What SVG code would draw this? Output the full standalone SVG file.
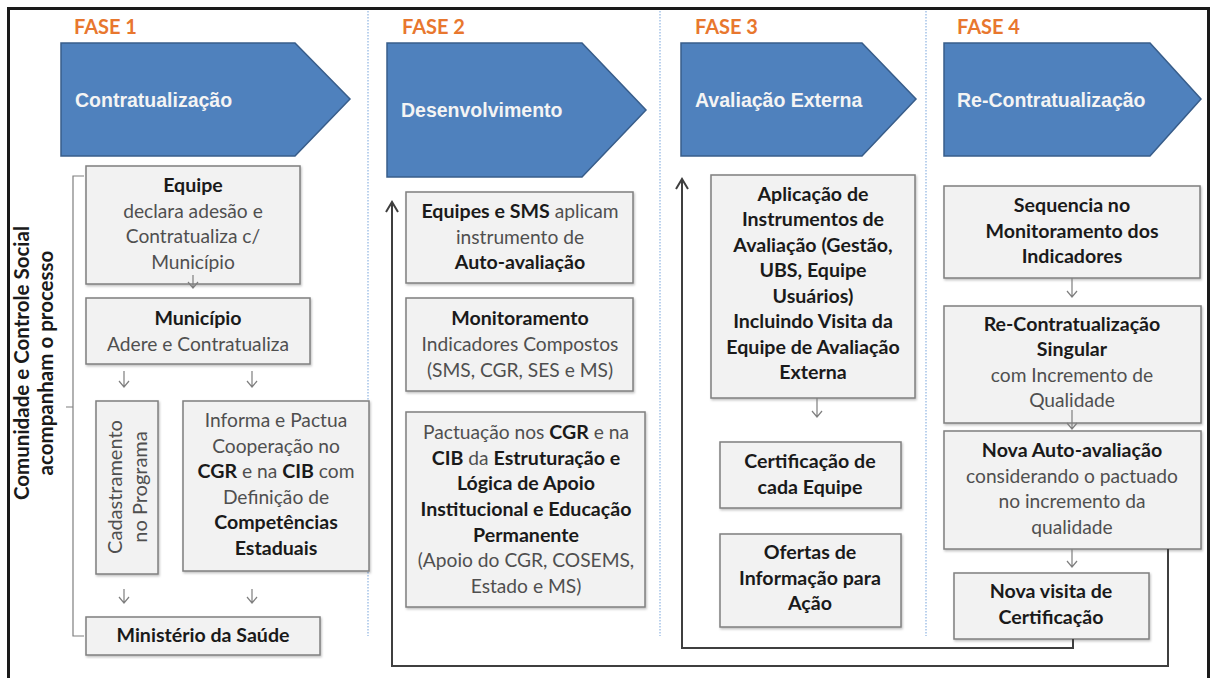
<svg xmlns="http://www.w3.org/2000/svg" width="1213" height="678" viewBox="0 0 1213 678">
<style>
.fase{font-family:Lato,"Open Sans",sans-serif;font-weight:bold;font-size:20px;fill:#E8772E}
.arw{fill:#4F81BD;stroke:#385D8A;stroke-width:1.5}
.at{font-family:"Liberation Sans",Arial,sans-serif;font-weight:bold;font-size:19.5px;fill:#F4F4F4}
.box{fill:#F2F2F2;stroke:#7F7F7F;stroke-width:1.5;filter:url(#sh)}
.t{font-family:Lato,"Open Sans",sans-serif;font-size:19.2px;fill:#4f4f4f;text-anchor:middle}
.b{font-weight:bold;fill:#1a1a1a;font-size:19.6px}
.sm{fill:none;stroke:#7F7F7F;stroke-width:1.2}
.loop{fill:none;stroke:#3F3F3F;stroke-width:2}
.div{stroke:#8DB3E2;stroke-width:1.2;stroke-dasharray:1.5 1.5}
</style>
<defs>
<filter id="sh" x="-5%" y="-5%" width="110%" height="115%">
<feDropShadow dx="1" dy="1.5" stdDeviation="1" flood-color="#000" flood-opacity="0.25"/>
</filter>
</defs>
<rect width="1213" height="678" fill="#fff"/>
<rect x="8.5" y="8.5" width="1200" height="700" fill="none" stroke="#1a1a1a" stroke-width="3"/>
<g id="dividers">
<line class="div" x1="368" y1="11" x2="368" y2="636"/>
<line class="div" x1="660" y1="11" x2="660" y2="636"/>
<line class="div" x1="926" y1="11" x2="926" y2="636"/>
</g>
<g id="fase1">
<text class="fase" x="74" y="34">FASE 1</text>
<polygon class="arw" points="61,43 295,43 350,99 295,156 61,156"/>
<text class="at" x="75" y="107">Contratualização</text>
</g>
<g id="fase2">
<text class="fase" x="402" y="34">FASE 2</text>
<polygon class="arw" points="387,43 582,43 646,110 582,177 387,177"/>
<text class="at" x="401" y="117">Desenvolvimento</text>
</g>
<g id="fase3">
<text class="fase" x="695" y="34">FASE 3</text>
<polygon class="arw" points="681,43 862,43 916,99 862,156 681,156"/>
<text class="at" x="695" y="107">Avaliação Externa</text>
</g>
<g id="fase4">
<text class="fase" x="957" y="34">FASE 4</text>
<polygon class="arw" points="944,43 1150,43 1201,99 1150,156 944,156"/>
<text class="at" x="957" y="107">Re-Contratualização</text>
</g>
<g id="comunidade">
<path class="sm" d="M84,176 H73 V636 H84 M66,407 H73"/>
<text class="t b" style="font-size:20.5px" transform="translate(29,363) rotate(-90)">Comunidade e Controle Social</text>
<text class="t b" style="font-size:20.5px" transform="translate(53,363) rotate(-90)">acompanham o processo</text>
</g>
<g id="equipe">
<rect class="box" x="86" y="166" width="214" height="118"/>
<text class="t" x="193" y="192"><tspan class="b">Equipe</tspan></text>
<text class="t" x="193" y="218">declara adesão e</text>
<text class="t" x="193" y="243">Contratualiza c/</text>
<text class="t" x="193" y="269">Município</text>
</g>
<g id="municipio">
<rect class="box" x="86" y="298" width="224" height="66"/>
<text class="t b" x="198" y="325">Município</text>
<text class="t" x="198" y="351">Adere e Contratualiza</text>
</g>
<g id="cadastramento">
<rect class="box" x="96" y="401" width="62" height="173"/>
<text class="t" style="font-size:20px" transform="translate(122,487) rotate(-90)">Cadastramento</text>
<text class="t" style="font-size:20px" transform="translate(147,487) rotate(-90)">no Programa</text>
</g>
<g id="informa">
<rect class="box" x="183" y="401" width="186" height="170"/>
<text class="t" x="276" y="427">Informa e Pactua</text>
<text class="t" x="276" y="453">Cooperação no</text>
<text class="t" x="276" y="478"><tspan class="b">CGR</tspan> e na <tspan class="b">CIB</tspan> com</text>
<text class="t" x="276" y="504">Definição de</text>
<text class="t b" x="276" y="529">Competências</text>
<text class="t b" x="276" y="555">Estaduais</text>
</g>
<g id="ministerio">
<rect class="box" x="86" y="617" width="234" height="38"/>
<text class="t b" x="203" y="642">Ministério da Saúde</text>
</g>
<g id="autoavaliacao">
<rect class="box" x="406" y="192" width="227" height="91"/>
<text class="t" x="520" y="218"><tspan class="b">Equipes e SMS</tspan> aplicam</text>
<text class="t" x="520" y="244">instrumento de</text>
<text class="t b" x="520" y="269">Auto-avaliação</text>
</g>
<g id="monitoramento">
<rect class="box" x="406" y="298" width="227" height="93"/>
<text class="t b" x="520" y="325">Monitoramento</text>
<text class="t" x="520" y="351">Indicadores Compostos</text>
<text class="t" x="520" y="377">(SMS, CGR, SES e MS)</text>
</g>
<g id="pactuacao">
<rect class="box" x="406" y="412" width="239" height="195"/>
<text class="t" x="526" y="439">Pactuação nos <tspan class="b">CGR</tspan> e na</text>
<text class="t" x="526" y="465"><tspan class="b">CIB</tspan> da <tspan class="b">Estruturação e</tspan></text>
<text class="t b" x="526" y="490">Lógica de Apoio</text>
<text class="t b" x="526" y="516">Institucional e Educação</text>
<text class="t b" x="526" y="542">Permanente</text>
<text class="t" x="526" y="567">(Apoio do CGR, COSEMS,</text>
<text class="t" x="526" y="593">Estado e MS)</text>
</g>
<g id="aplicacao">
<rect class="box" x="711" y="175" width="204" height="223"/>
<text class="t b" x="813" y="201">Aplicação de</text>
<text class="t b" x="813" y="226">Instrumentos de</text>
<text class="t b" x="813" y="252">Avaliação (Gestão,</text>
<text class="t b" x="813" y="277">UBS, Equipe</text>
<text class="t b" x="813" y="303">Usuários)</text>
<text class="t b" x="813" y="328">Incluindo Visita da</text>
<text class="t b" x="813" y="354">Equipe de Avaliação</text>
<text class="t b" x="813" y="379">Externa</text>
</g>
<g id="certificacao">
<rect class="box" x="720" y="442" width="181" height="66"/>
<text class="t b" x="810" y="468">Certificação de</text>
<text class="t b" x="810" y="494">cada Equipe</text>
</g>
<g id="ofertas">
<rect class="box" x="720" y="534" width="181" height="93"/>
<text class="t b" x="810" y="559">Ofertas de</text>
<text class="t b" x="810" y="585">Informação para</text>
<text class="t b" x="810" y="610">Ação</text>
</g>
<g id="sequencia">
<rect class="box" x="944" y="186" width="256" height="92"/>
<text class="t b" x="1072" y="212">Sequencia no</text>
<text class="t b" x="1072" y="238">Monitoramento dos</text>
<text class="t b" x="1072" y="263">Indicadores</text>
</g>
<g id="recontratualizacao">
<rect class="box" x="944" y="306" width="257" height="117"/>
<text class="t b" x="1072" y="331">Re-Contratualização</text>
<text class="t b" x="1072" y="356">Singular</text>
<text class="t" x="1072" y="382">com Incremento de</text>
<text class="t" x="1072" y="407">Qualidade</text>
</g>
<g id="novaauto">
<rect class="box" x="944" y="431" width="257" height="118"/>
<text class="t b" x="1072" y="457">Nova Auto-avaliação</text>
<text class="t" x="1072" y="483">considerando o pactuado</text>
<text class="t" x="1072" y="508">no incremento da</text>
<text class="t" x="1072" y="534">qualidade</text>
</g>
<g id="novavisita">
<rect class="box" x="954" y="573" width="195" height="66"/>
<text class="t b" x="1051" y="598">Nova visita de</text>
<text class="t b" x="1051" y="624">Certificação</text>
</g>
<g id="connectors">
<path class="sm" d="M193,275 V288 M188,282 L193,288 L198,282"/>
<path class="sm" d="M124,371 V387 M119,381 L124,387 L129,381"/>
<path class="sm" d="M252,371 V387 M247,381 L252,387 L257,381"/>
<path class="sm" d="M124,589 V603 M119,597 L124,603 L129,597"/>
<path class="sm" d="M252,589 V603 M247,597 L252,603 L257,597"/>
<path class="sm" d="M817,398 V417 M812,411 L817,417 L822,411"/>
<path class="sm" d="M1072,278 V297 M1067,291 L1072,297 L1077,291"/>
<path class="sm" d="M1072,410 V429 M1067,423 L1072,429 L1077,423"/>
<path class="sm" d="M1072,549 V567 M1067,561 L1072,567 L1077,561"/>
<path class="loop" d="M1168,549 V666 H392 V203"/>
<path class="loop" d="M386,212 L392,202 L398,212"/>
<path class="loop" d="M1073,639 V648 H682 V180"/>
<path class="loop" d="M676,189 L682,179 L688,189"/>
</g>
</svg>
